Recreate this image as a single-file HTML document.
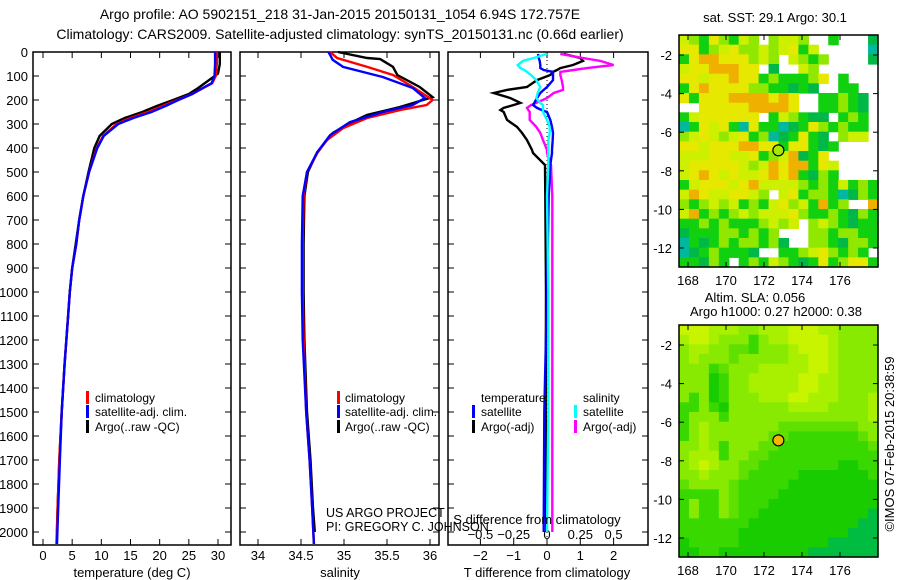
<!DOCTYPE html>
<html><head><meta charset="utf-8">
<style>
html,body{margin:0;padding:0;background:#fff;}
svg{display:block;font-family:"Liberation Sans",sans-serif;}
text{font-size:13px;fill:#000;}
</style></head>
<body>
<svg id="fig" width="900" height="580" viewBox="0 0 900 580" xmlns="http://www.w3.org/2000/svg">
<text x="340" y="19" text-anchor="middle" style="font-size:14px">Argo profile: AO 5902151_218 31-Jan-2015 20150131_1054 6.94S 172.757E</text>
<text x="340" y="39" text-anchor="middle" style="font-size:14px">Climatology: CARS2009. Satellite-adjusted climatology: synTS_20150131.nc (0.66d earlier)</text>
<g id="g"></g>
</svg>
<script>
// ---------- data ----------
const tDepth = [0,50,100,130,150,175,200,225,250,275,300,350,400,500,600,700,800,900,1000,1100,1300,1500,1700,1900,2050];
const tClim  = [29.8,29.8,29.6,29.0,27.5,25.5,23.0,20.5,18.0,15.0,12.6,10.3,9.2,7.9,6.9,6.2,5.7,5.0,4.6,4.3,3.7,3.2,2.8,2.5,2.3];
const tSat   = [29.5,29.5,29.4,28.9,27.4,25.6,23.2,21.0,18.6,15.5,12.9,10.4,9.3,7.9,6.9,6.2,5.7,5.0,4.6,4.3,3.7,3.2,2.9,2.6,2.4];
const tArgoDepth = [0,50,90,150,175,200,225,250,275,300,350,400,500,600,700,800,900,1000,1100,1300,1500,1700,1900,2000];
const tArgo  = [30.3,30.3,30.0,26.6,25.0,22.3,19.5,17.0,14.0,11.8,9.7,8.8,7.8,6.9,6.2,5.6,5.0,4.6,4.3,3.7,3.2,2.8,2.5,2.4];

const sDepth = [0,25,62,96,146,200,221,242,275,317,367,421,500,600,800,1000,1200,1500,1700,1900,2050];
const sClim  = [34.84,34.92,35.27,35.57,35.80,36.03,35.96,35.65,35.27,34.99,34.80,34.69,34.57,34.53,34.52,34.52,34.53,34.56,34.60,34.63,34.65];
const sSatDepth = [0,33,62,104,150,192,221,250,292,346,417,500,600,800,1000,1200,1500,1700,1900,2050];
const sSat   = [34.82,34.87,34.99,35.45,35.80,35.94,35.80,35.45,35.07,34.84,34.69,34.57,34.52,34.51,34.51,34.52,34.56,34.60,34.63,34.65];
const sArgoDepth = [0,25,29,62,96,146,188,229,262,296,337,417,500,600,800,1000,1200,1500,1700,1900,2000];
const sArgo  = [34.93,35.27,35.42,35.57,35.62,35.88,36.03,35.65,35.27,35.07,34.87,34.69,34.58,34.54,34.53,34.53,34.54,34.57,34.61,34.64,34.66];

const dDepth = [8,25,37,54,67,75,83,96,117,146,158,171,192,212,221,233,242,250,283,312,337,367,408,421,471,600,1000,1500,2000];
const dTArgo = [0.5,1.0,1.08,0.78,0.4,0.3,0.18,0.1,-0.3,-0.6,-1.2,-1.6,-1.1,-0.8,-1.0,-1.3,-1.4,-1.3,-1.2,-0.9,-0.75,-0.6,-0.45,-0.42,-0.06,-0.05,-0.03,-0.04,-0.02];
const dTSat  = [-0.27,-0.25,-0.22,-0.2,-0.2,-0.1,0.18,0.18,0.18,0.0,-0.1,-0.2,-0.3,-0.38,-0.42,-0.3,-0.15,0.0,0.1,0.15,0.18,0.17,0.15,0.15,0.1,0.05,0.0,-0.08,-0.1];
const dSSat  = [0.0,-0.1,-0.18,-0.22,-0.2,-0.17,-0.15,-0.12,-0.08,-0.05,-0.06,-0.07,-0.08,-0.05,-0.03,-0.03,-0.03,-0.03,0.0,0.02,0.02,0.01,0.01,0.01,0.01,0.0,0.01,0.01,0.0];
const dSArgo = [0.1,0.27,0.4,0.5,0.3,0.2,0.1,0.1,0.11,0.12,0.12,0.05,0.0,-0.08,-0.12,-0.15,-0.14,-0.13,-0.13,-0.08,-0.05,-0.03,0.0,0.0,0.03,0.04,0.04,0.04,0.04];

const depthTicks = [0,100,200,300,400,500,600,700,800,900,1000,1100,1200,1300,1400,1500,1600,1700,1800,1900,2000];
const tTicks = [0,5,10,15,20,25,30];
const sTicks = [34,34.5,35,35.5,36];
const sTickLabels = ["34","34.5","35","35.5","36"];
const dTTicks = [-2,-1,0,1,2];
const dSTicks = [-0.5,-0.25,0,0.25,0.5];
const dSTickLabels = ["\u22120.5","\u22120.25","0","0.25","0.5"];
const lonTicks = [168,170,172,174,176];
const latTicks = [-2,-4,-6,-8,-10,-12];
const argoLon = 172.757, argoLat = -6.94;

// SST map grid rows (lat -1 .. -13, 0.5 deg), 20 cols lon 167.5..178
const sstRows = [
"yGgYGgyGwGyyGwwgwwwd","YYgGyYGGyGyYgywwwwwc","gYOOYYYGyGwyGgGwwwwd","yYYOOOYYwdwwyGwwwwww",
"YYyYYOYYgGgggGYwgwww","gYOYYYYGGggdgdwwggww","YgYYYOOOOYOYwwggGgdw","wwYYYYYOOOOYwwggGgdw",
"gyYYYYYYwgyGgddwgGgw","cgYyYgcYggcdgYGgGggw","GyYyGyYgGcdgYgdwGyyw","YYyYYYOOYYgYYgdgwwww",
"yyyYYyyYgGyOdgYwwwww","yYYYYYyGyOYOOgYywwww","yYOYyYyyYOYOgdGgwwww","gyYYYyYOyyyyGgGgygGg",
"yOYyyYYyGwyYgGGgcdGg","GgGyGygGgyYGygOgGwwO","yOgGgGyGyyyYGggGgdGg","ggGgGgggGyGywGyGgdgg",
"dgggGGgGgGwwwGGgGGgg","cgdgGgGGgGdwwGGgdGGg","cdgGgggdwwggGyYGgGgw","ggdGgwgGgyGgdgYgGYYg"];
const slaRows = [
"LLLlllmmlllLLLllmmmm","lLLlmmmnmllLLLLlmmmm","mllmmMMnmmmlLLLlmmmm","mlmmmMmmmmmllLLlmmmm",
"mmmnMmmmlllllLLlmmmm","mmmNnmmlllllLLllmmmm","mmmNnmmlllllLLllmmmm","mnmNnmmmlllLLlllmmml",
"nnmnNmmmmmmllllmmmml","nmmmnmmmmmmmmmmmmmml","nmlmmmmmmmMMMMMMMMmm","nmlmmmmmmMMnnnnnnnMm",
"mmlmnmmmMMnnnnnnnnnM","mlllnmmMMnnnnnnnnnnn","mlLlmmMMnnnnnnnnNNnn","mmlmmmMnnnnnNNNNNNNn",
"MmmmmMnnnnnNNNNNNNNN","nnnnmMnnnnNNNNNNNNNN","nmnnmMnnnNNNNNNNNNNN","nmnnmMnnNNNNNNNNNNNK",
"nnnnnnnNNNNNNNNNNNKK","nnnnnnNNNNNNNNNNNKKK","NnnnnnNNNNNNNNNKKKKK","NNnnNNNNNNNNNKKKKKKK"];

// ---------- helpers ----------
const NS="http://www.w3.org/2000/svg";
const G=document.getElementById('g');
function mk(tag,attrs,parent){const e=document.createElementNS(NS,tag);for(const k in attrs)e.setAttribute(k,attrs[k]);(parent||G).appendChild(e);return e;}
function txt(x,y,s,anchor,size){const e=mk('text',{x:x,y:y,'text-anchor':anchor||'middle'});if(size)e.style.fontSize=size+'px';e.textContent=s;return e;}

const TOP=52, BOT=545;
const yD = d => TOP + d*0.24;
const xT = t => 43 + t*(175/30);
const xS = s => 258 + (s-34)*86;
const xDT = v => 547 + v*33.3;
const xDS = v => 547 + v*133.2;

function panel(x0,x1,name){
  const r=mk('rect',{x:x0,y:TOP,width:x1-x0,height:BOT-TOP,fill:'none',stroke:'#000','stroke-width':1.5});
  
  
  depthTicks.forEach(d=>{
    mk('line',{x1:x0,x2:x0+6,y1:yD(d),y2:yD(d),stroke:'#000'});
    mk('line',{x1:x1-6,x2:x1,y1:yD(d),y2:yD(d),stroke:'#000'});
  });
}
function xticks(vals,fx,labels,ly,top,name){
  vals.forEach((v,i)=>{
    const x=fx(v);
    mk('line',{x1:x,x2:x,y1:BOT,y2:BOT-6,stroke:'#000'});
    if(top) mk('line',{x1:x,x2:x,y1:TOP,y2:TOP+6,stroke:'#000'});
    const t=txt(x,ly,labels?labels[i]:String(v));
    
    
  });
}
function line(depths,vals,fx,color,name){
  const pts=depths.map((d,i)=>fx(vals[i]).toFixed(1)+','+yD(d).toFixed(1)).join(' ');
  const p=mk('polyline',{points:pts,fill:'none',stroke:color,'stroke-width':2.4,'stroke-linejoin':'miter'});
  
  
}
function legendEntry(bx,tx,y,color,label){
  mk('rect',{x:bx,y:y-11,width:3,height:13,fill:color});
  const t=txt(tx,y,label,'start',12);
  
  
}

// ---------- panel 1: temperature ----------
panel(33,231,'temperature-panel');
depthTicks.forEach(d=>{const t=txt(28,yD(d)+5,String(d),'end');

});
xticks(tTicks,xT,null,560,true,'temperature-tick-label');
line(tArgoDepth,tArgo,xT,'#000','temp-argo-line');
line(tDepth,tClim,xT,'#f00','temp-climatology-line');
line(tDepth,tSat,xT,'#00f','temp-satellite-line');
legendEntry(86,95,402,'#f00','climatology');
legendEntry(86,95,416,'#00f','satellite-adj. clim.');
legendEntry(86,95,431,'#000','Argo(..raw -QC)');
{const t=txt(132,577,'temperature (deg C)');}

// ---------- panel 2: salinity ----------
panel(240,439,'salinity-panel');
xticks(sTicks,xS,sTickLabels,560,true,'salinity-tick-label');
line(sArgoDepth,sArgo,xS,'#000','sal-argo-line');
line(sDepth,sClim,xS,'#f00','sal-climatology-line');
line(sSatDepth,sSat,xS,'#00f','sal-satellite-line');
legendEntry(337,345,402,'#f00','climatology');
legendEntry(337,345,416,'#00f','satellite-adj. clim.');
legendEntry(337,345,431,'#000','Argo(..raw -QC)');
{const t=txt(340,577,'salinity');}
{const t=txt(326,517,'US ARGO PROJECT','start',12.5);}
{const t=txt(326,531,'PI: GREGORY C. JOHNSON','start',12.5);}

// ---------- panel 3: differences ----------
panel(448,648,'difference-panel');
mk('line',{x1:xDT(0),x2:xDT(0),y1:TOP,y2:BOT,stroke:'#000','stroke-dasharray':'1,3'});
xticks(dTTicks,xDT,["\u22122","\u22121","0","1","2"],560,true,'t-diff-tick-label');
dSTicks.forEach((v,i)=>{const t=txt(xDS(v),539,dSTickLabels[i]);

});
line(dDepth,dTArgo,xDT,'#000','t-diff-argo-line');
line(dDepth,dSArgo,xDS,'#f0f','s-diff-argo-line');
line(dDepth,dTSat,xDT,'#00f','t-diff-satellite-line');
line(dDepth,dSSat,xDS,'#0ff','s-diff-satellite-line');
{const t=txt(481,402,'temperature','start',12);}
{const t=txt(583,402,'salinity','start',12);}
legendEntry(472,481,416,'#00f','satellite');
legendEntry(472,481,431,'#000','Argo(-adj)');
legendEntry(574,583,416,'#0ff','satellite');
legendEntry(574,583,431,'#f0f','Argo(-adj)');
{const t=txt(537,524,'S difference from climatology');}
{const t=txt(547,577,'T difference from climatology');}

// ---------- maps ----------
const MX0=679, MX1=878;
const xLon = lon => 688 + (lon-168)*19;
const COLS = {O:'#f0b000',Y:'#e6e800',y:'#ccf000',G:'#90e800',g:'#10d010',d:'#00b848',c:'#00b8a0',w:'#ffffff',
  L:'#c8f400',l:'#a8f000',m:'#88ea00',M:'#60e000',n:'#38d800',N:'#18cc00',K:'#00bc40'};
function map(y0,y1,latY,rows,name,dotFill){
  const gm=mk('g',{});
  
  
  const cw=(MX1-MX0)/rows[0].length, ch=(y1-y0)/rows.length;
  rows.forEach((row,r)=>{[...row].forEach((c,k)=>{
    if(c==='w')return;
    mk('rect',{x:(MX0+k*cw).toFixed(2),y:(y0+r*ch).toFixed(2),width:(cw+0.6).toFixed(2),height:(ch+0.6).toFixed(2),fill:COLS[c]},gm);
  });});
  mk('rect',{x:MX0,y:y0,width:MX1-MX0,height:y1-y0,fill:'none',stroke:'#000','stroke-width':1.5});
  lonTicks.forEach(v=>{const x=xLon(v);
    mk('line',{x1:x,x2:x,y1:y1,y2:y1-5,stroke:'#000'});
    mk('line',{x1:x,x2:x,y1:y0,y2:y0+5,stroke:'#000'});
    const t=txt(x,y1+18,String(v));
    
    });
  latTicks.forEach(v=>{const y=latY(v);
    mk('line',{x1:MX0,x2:MX0+5,y1:y,y2:y,stroke:'#000'});
    mk('line',{x1:MX1-5,x2:MX1,y1:y,y2:y,stroke:'#000'});
    const t=txt(672,y+5,"-"+Math.abs(v),'end');
    
    });
  const c=mk('circle',{cx:xLon(argoLon),cy:latY(argoLat),r:5.5,fill:dotFill,stroke:'#000','stroke-width':1.2});
  
  
}
map(35,267,lat=>55+(-2-lat)*19.3,sstRows,'sst-map','#a8e800');
map(325,557,lat=>345+(-2-lat)*19.3,slaRows,'sla-map','#f0b800');
{const t=txt(775,22,'sat. SST: 29.1 Argo: 30.1');}
{const t=txt(755,302,'Altim. SLA: 0.056');}
{const t=txt(776,316,'Argo h1000: 0.27 h2000: 0.38');}
{const t=txt(0,0,'\u00a9IMOS 07-Feb-2015 20:38:59');t.setAttribute('transform','translate(894,444) rotate(-90)');
}
</script>
</body></html>
